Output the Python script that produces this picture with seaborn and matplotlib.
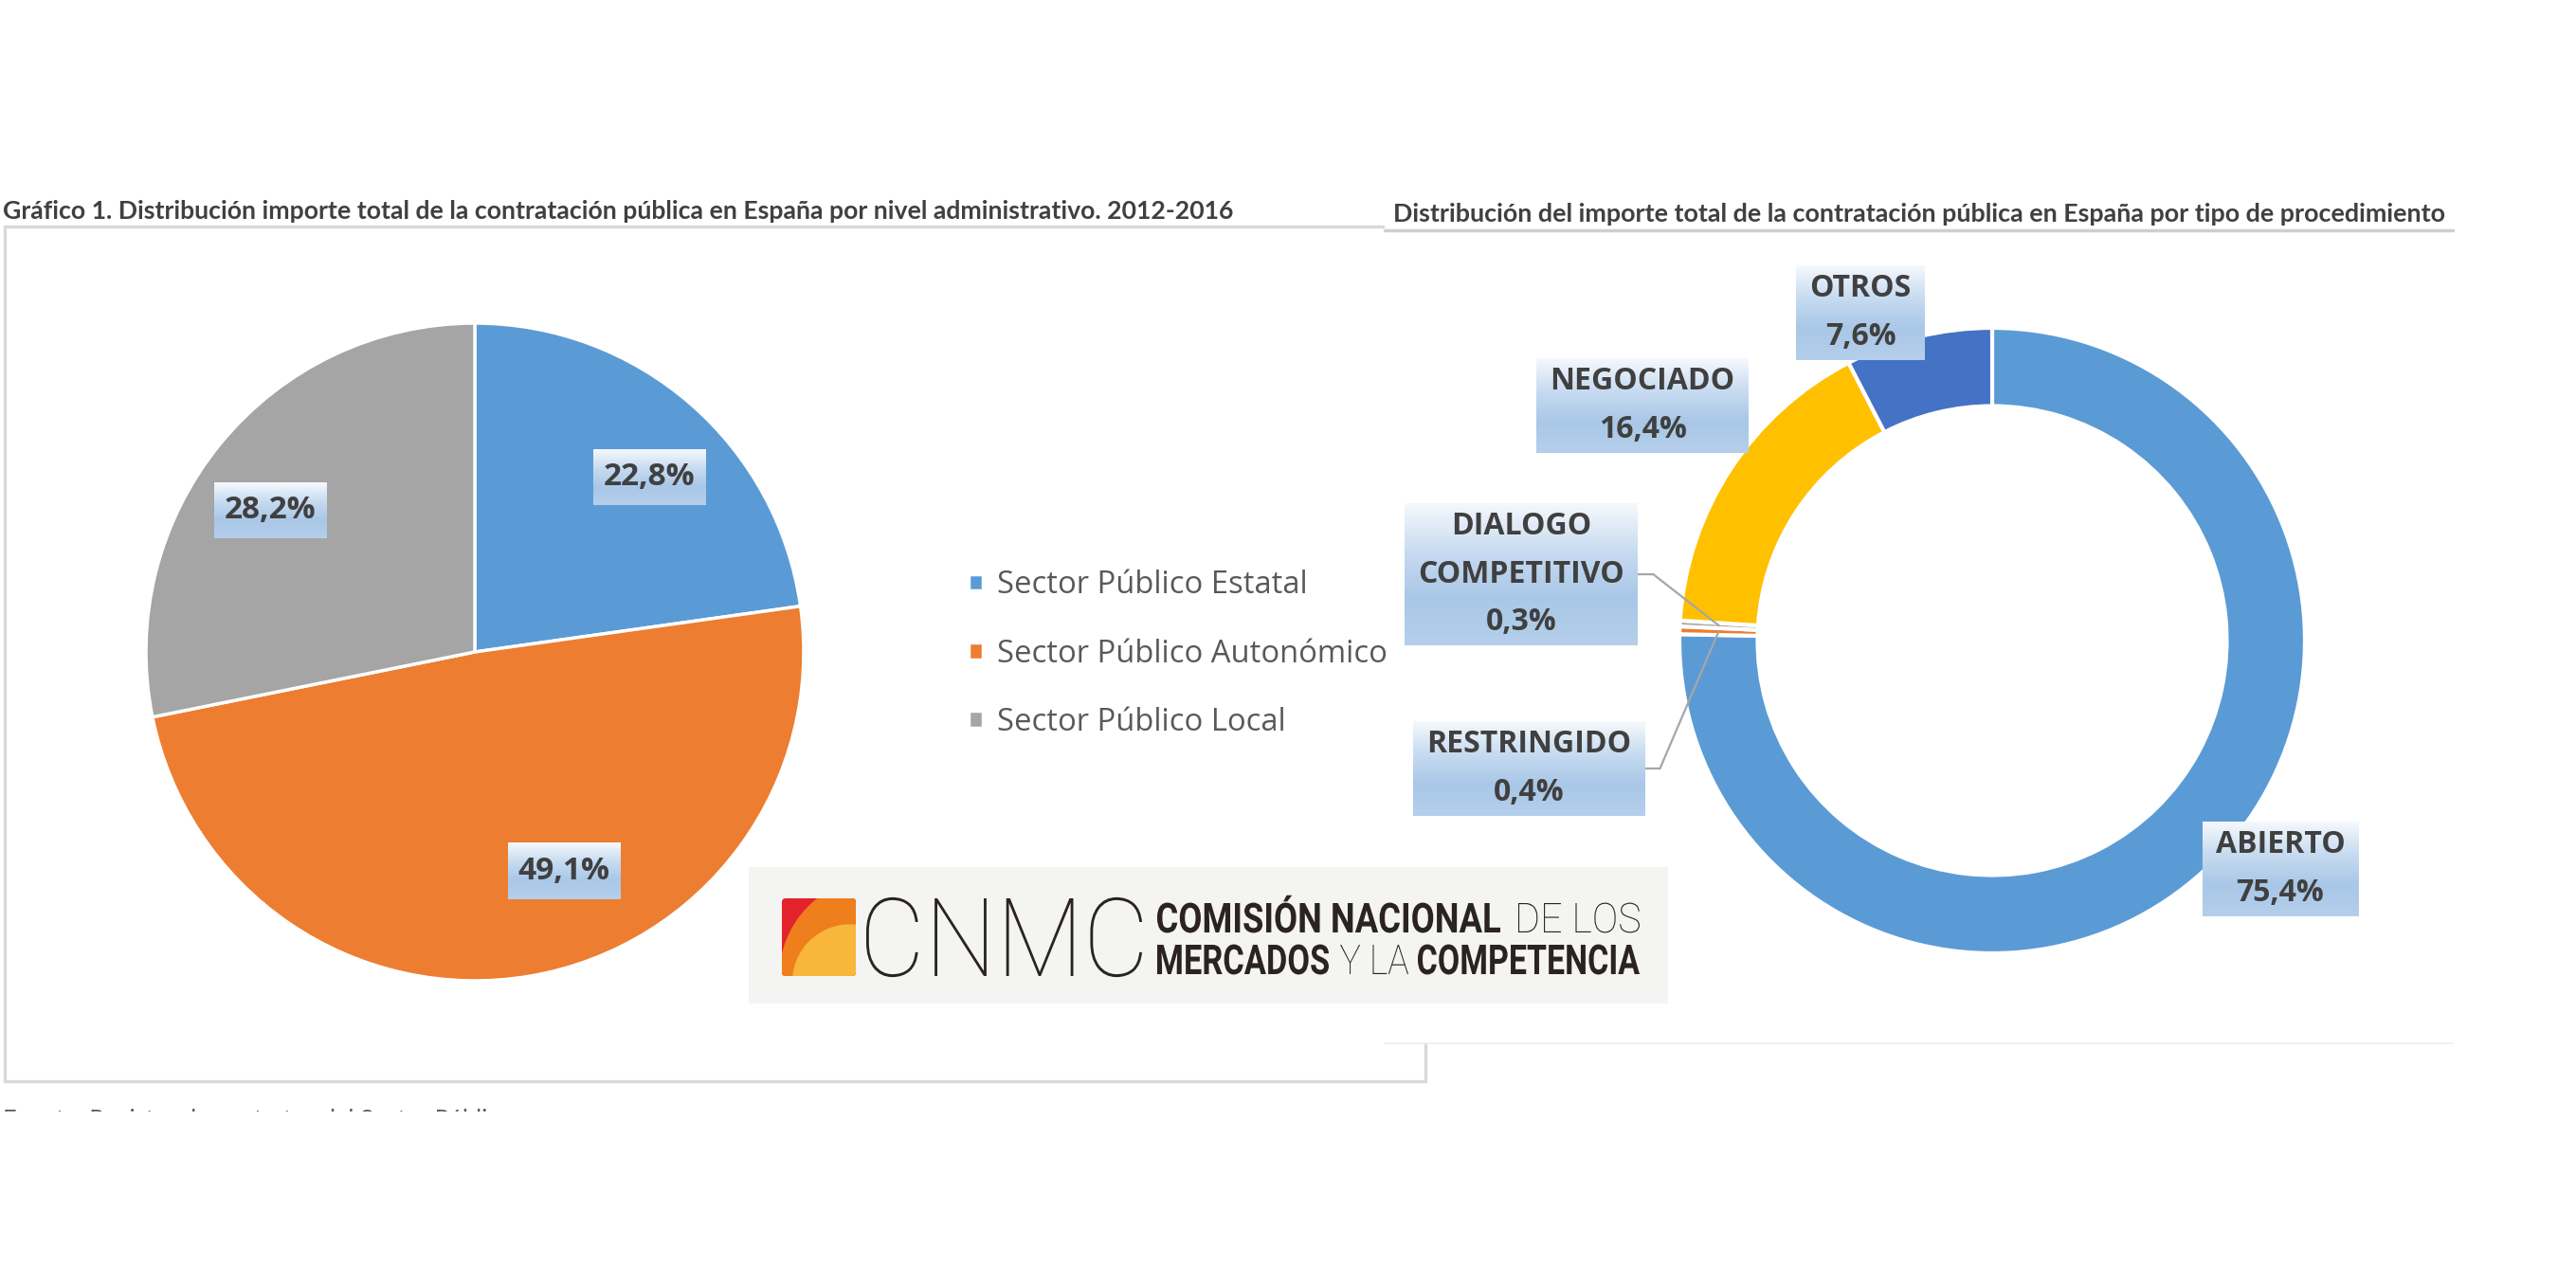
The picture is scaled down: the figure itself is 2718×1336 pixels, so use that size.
import numpy as np
import matplotlib
matplotlib.use('Agg')
import matplotlib.pyplot as plt
import seaborn as sns
from matplotlib.patches import Rectangle, FancyBboxPatch, Circle, PathPatch
from matplotlib.textpath import TextPath
from matplotlib.font_manager import FontProperties
from matplotlib.transforms import Affine2D, Bbox
from matplotlib.colors import LinearSegmentedColormap

# --- data ---
sector_labels = ['Sector Público Estatal', 'Sector Público Autonómico', 'Sector Público Local']
sector_values = [22.8, 49.1, 28.2]
sector_colors = ['#5b9bd5', '#ed7d31', '#a5a5a5']

proc_labels = ['ABIERTO', 'RESTRINGIDO', 'DIALOGO\nCOMPETITIVO', 'NEGOCIADO', 'OTROS']
proc_values = [75.4, 0.4, 0.3, 16.4, 7.6]
proc_colors = ['#5b9bd5', '#ed7d31', '#a5a5a5', '#ffc000', '#4472c4']

title_left = ('Gráfico 1. Distribución importe total de la contratación pública '
              'en España por nivel administrativo. 2012-2016')
title_right = ('Distribución del importe total de la contratación pública '
               'en España por tipo de procedimiento')
source_text = 'Fuente: Registro de contratos del Sector Público'

# label anchor positions, in units of the pie radius
sector_label_pos = [(0.530, 0.533), (0.271, -0.666), (-0.622, 0.432)]
proc_label_pos = [(0.921, -0.730), (-1.482, -0.409), (-1.506, 0.212),
                  (-1.118, 0.752), (-0.421, 1.048)]

W, H = 2718, 1336
TXT = '#404040'

sns.set_theme(style='white')
plt.rcParams['font.family'] = ['Open Sans', 'DejaVu Sans']

fig = plt.figure(figsize=(W / 100, H / 100), dpi=100)
fig.patch.set_facecolor('white')


def px_axes(x0, y0, x1, y1, z=1):
    a = fig.add_axes([x0 / W, 1 - y1 / H, (x1 - x0) / W, (y1 - y0) / H], zorder=z)
    a.set_axis_off()
    return a


def pct(v):
    return f'{v:.1f}%'.replace('.', ',')


# --- frame / background ---
frame = px_axes(0, 0, W, H, z=0)
frame.set_xlim(0, W)
frame.set_ylim(H, 0)
frame.add_patch(Rectangle((5, 239), 1499, 902, fill=False, ec='#d9d9d9', lw=2.4))
frame.add_patch(Rectangle((1461, 200), 1127, 901, fc='white', ec='none', zorder=3))
frame.plot([1461, 2588], [243, 243], color='#cfcfcf', lw=2.5, zorder=4)
frame.plot([1461, 2588], [1101, 1101], color='#efefef', lw=1.2, zorder=4)

title_font = ['Lato', 'Open Sans', 'DejaVu Sans']
t_left = frame.text(3, 231, title_left, fontsize=16, fontweight='bold', family=title_font,
                    color=TXT, va='baseline', ha='left')
t_right = frame.text(1470, 234, title_right, fontsize=16, fontweight='bold', family=title_font,
                     color=TXT, va='baseline', ha='left', zorder=5)
t_src = frame.text(3, 1189, source_text, fontsize=15, color='#595959', family=title_font,
                   va='baseline', ha='left')

fig.canvas.draw()
r = fig.canvas.get_renderer()
for t, target in [(t_left, 1301), (t_right, 1118), (t_src, 540)]:
    w = t.get_window_extent(r).width
    t.set_fontsize(t.get_fontsize() * target / w)
t_src.set_clip_box(Bbox([[0, H - 1173], [W, H]]))
t_src.set_clip_on(True)

# --- left pie ---
cx, cy, R = 501, 688, 347
axL = px_axes(100, 300, 900, 1100)
wedgesL, _ = axL.pie(sector_values, colors=sector_colors, startangle=90, counterclock=False,
                     wedgeprops=dict(edgecolor='white', linewidth=2.5))

boxes = []
for v, (x, y) in zip(sector_values, sector_label_pos):
    t = axL.text(x, y, pct(v), ha='center', va='center', fontsize=24,
                 fontweight='bold', color=TXT, zorder=5)
    boxes.append((axL, t, 11, 13))

fig.legend(wedgesL, sector_labels, loc='center left',
           bbox_to_anchor=(993 / W, 1 - 690 / H), frameon=False,
           fontsize=23.6, labelcolor='#595959', handlelength=0.45, handleheight=0.45,
           handletextpad=0.45, labelspacing=1.2)

# --- right donut ---
dx, dy, DR = 2102, 676, 330
axR = px_axes(1461, 243, 2588, 1101, z=2)
wedgesR, _ = axR.pie(proc_values, colors=proc_colors, startangle=90, counterclock=False,
                     wedgeprops=dict(width=0.25, edgecolor='white', linewidth=3))

for lab, v, (x, y) in zip(proc_labels, proc_values, proc_label_pos):
    t = axR.text(x, y, f'{lab}\n{pct(v)}', ha='center', va='center', fontsize=23,
                 fontweight='bold', color=TXT, linespacing=1.7, zorder=5)
    boxes.append((axR, t, 14, 8))


def set_limits():
    axL.set_xlim((100 - cx) / R, (900 - cx) / R)
    axL.set_ylim((cy - 1100) / R, (cy - 300) / R)
    axR.set_xlim((1461 - dx) / DR, (2588 - dx) / DR)
    axR.set_ylim((dy - 1101) / DR, (dy - 243) / DR)


set_limits()

# gradient boxes behind labels
box_cmap = LinearSegmentedColormap.from_list('box', ['#f6f9fd', '#c8dcf1', '#a9c7e7', '#b5cfeb'])
grad = np.linspace(0, 1, 256).reshape(-1, 1)
fig.canvas.draw()
r = fig.canvas.get_renderer()
box_right = {}
for a, t, padx, pady in boxes:
    bb = t.get_window_extent(r)
    inv = a.transData.inverted()
    x0, y0 = inv.transform((bb.x0 - padx, bb.y0 - pady))
    x1, y1 = inv.transform((bb.x1 + padx, bb.y1 + pady))
    a.imshow(grad, extent=(x0, x1, y0, y1), cmap=box_cmap, aspect='auto',
             interpolation='bilinear', zorder=4)
    box_right[t] = x1
set_limits()

# leader lines for the two thin slices
for i in (1, 2):
    w = wedgesR[i]
    mid = np.radians((w.theta1 + w.theta2) / 2)
    rm = w.r - w.width / 2
    t = boxes[3 + i][1]
    xr = box_right[t]
    yl = proc_label_pos[i][1]
    axR.plot([xr, xr + 0.05, rm * np.cos(mid)], [yl, yl, rm * np.sin(mid)],
             color='#a6a6a6', lw=1.6, zorder=3, solid_joinstyle='miter')

# --- CNMC logo ---
lg = px_axes(790, 915, 1760, 1059, z=3)
lg.set_xlim(790, 1760)
lg.set_ylim(H - 1059, H - 915)
lg.add_patch(Rectangle((790, H - 1059), 970, 144, fc='#f4f4f2', ec='none'))

ix0, ix1, iy0, iy1 = 825, 903, H - 1030, H - 948
s = ix1 - ix0
clip = FancyBboxPatch((ix0 + 4, iy0 + 4), s - 8, (iy1 - iy0) - 8,
                      boxstyle='round,pad=4', fc='#e3222b', ec='none')
lg.add_patch(clip)
orange = Circle((ix0 + 1.30 * s, iy0 + 0.0 * s), 1.335 * s, fc='#ee7f1c', ec='none')
yellow = Circle((ix0 + 0.92 * s, iy0 - 0.08 * s), 0.78 * s, fc='#f8b63a', ec='none')
for c in (orange, yellow):
    lg.add_patch(c)
    c.set_clip_path(clip)


def place_text(s_, fp, x0, x1, base, cap, color='#2b2323'):
    p = TextPath((0, 0), s_, size=1, prop=fp)
    capH = TextPath((0, 0), 'H', size=1, prop=fp).get_extents().height
    ext = p.get_extents()
    sx = (x1 - x0) / ext.width
    sy = cap / capH
    tr = Affine2D().translate(-ext.x0, 0).scale(sx, sy).translate(x0, base)
    lg.add_patch(PathPatch(tr.transform_path(p), fc=color, ec='none', lw=0))


bold = FontProperties(family='Roboto', weight='bold')
light = FontProperties(family='Roboto', weight='light')
thin = FontProperties(family='Roboto', weight=100)
place_text('CNMC', thin, 914, 1205, H - 1030, 82)
place_text('COMISIÓN NACIONAL', bold, 1221, 1583, H - 984, 31)
place_text('DE LOS', light, 1602, 1730, H - 984, 31)
place_text('MERCADOS', bold, 1221, 1402, H - 1028, 31)
place_text('Y LA', light, 1414, 1486, H - 1028, 31)
place_text('COMPETENCIA', bold, 1496, 1730, H - 1028, 31)

fig.savefig('out.png', dpi=100, facecolor='white')
